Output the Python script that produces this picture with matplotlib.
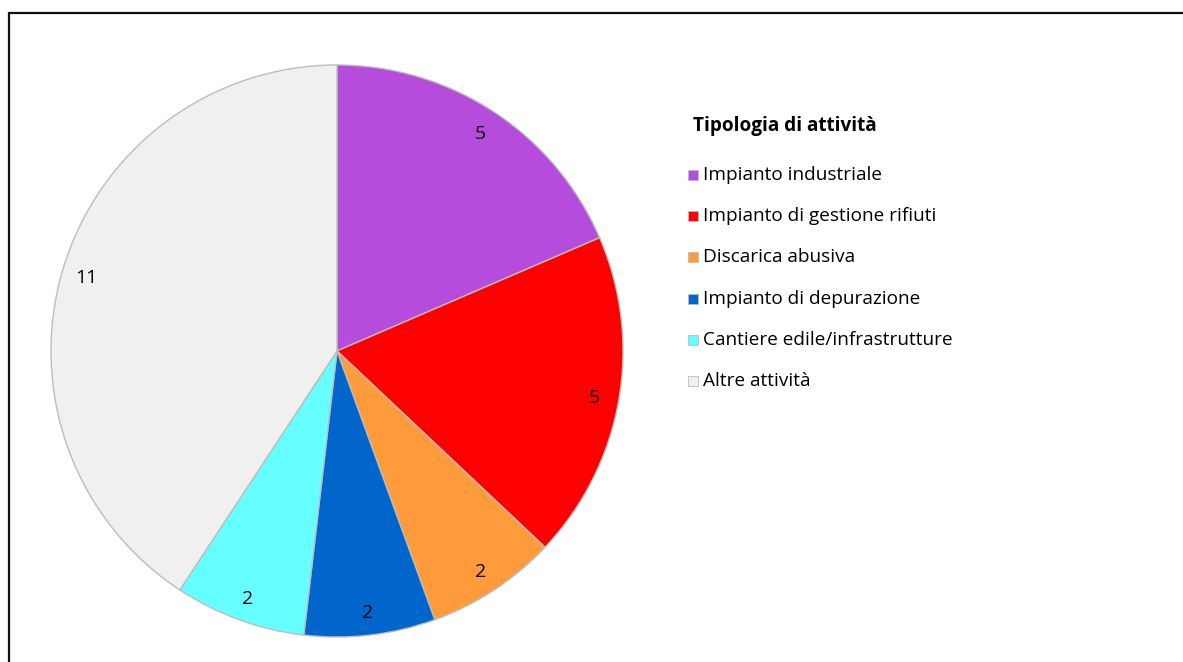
import matplotlib.pyplot as plt
from matplotlib.patches import Rectangle

# Dati
categorie = ['Impianto industriale', 'Impianto di gestione rifiuti', 'Discarica abusiva',
             'Impianto di depurazione', 'Cantiere edile/infrastrutture', 'Altre attività']
valori = [5, 5, 2, 2, 2, 11]
colori = ['#B54CDC', '#FF0000', '#FF9B3A', '#0066CC', '#66FFFF', '#F0F0F0']
titolo_legenda = 'Tipologia di attività'

plt.rcParams['font.family'] = ['Open Sans', 'DejaVu Sans']

W, H = 1183, 662
fig = plt.figure(figsize=(W / 100, H / 100), dpi=100)

# cornice esterna (esce dal bordo a destra e in basso)
fig.patches.append(Rectangle((9 / W, -0.1), 1.2, 1 - 13 / H + 0.1, transform=fig.transFigure,
                             fill=False, edgecolor='#111111', linewidth=1.6))

# torta
cx, cy, r = 337, 351, 286
ax = fig.add_axes([(cx - r) / W, (H - cy - r) / H, 2 * r / W, 2 * r / H])
wedges, testi = ax.pie(valori, colors=colori, startangle=90, counterclock=False,
                       labels=[str(v) for v in valori], labeldistance=0.915,
                       wedgeprops=dict(edgecolor='#BDBDBD', linewidth=1.0))
for t in testi:
    t.set_ha('center')
    t.set_va('center_baseline')
    t.set_fontsize(14)
ax.set_xlim(-1, 1)
ax.set_ylim(-1, 1)

# legenda
fig.text(693 / W, 1 - 126 / H, titolo_legenda, fontsize=13.7, fontweight='bold',
         ha='left', va='center')
y0 = 175
for i, (cat, col) in enumerate(zip(categorie, colori)):
    y = y0 + i * 41.2
    fig.patches.append(Rectangle((688 / W, 1 - (y + 5) / H), 10 / W, 10 / H,
                                 transform=fig.transFigure, facecolor=col,
                                 edgecolor='#BDBDBD', linewidth=0.6))
    fig.text(703 / W, 1 - y / H, cat, fontsize=13.7, ha='left', va='center')

fig.savefig('out.png', dpi=100)
